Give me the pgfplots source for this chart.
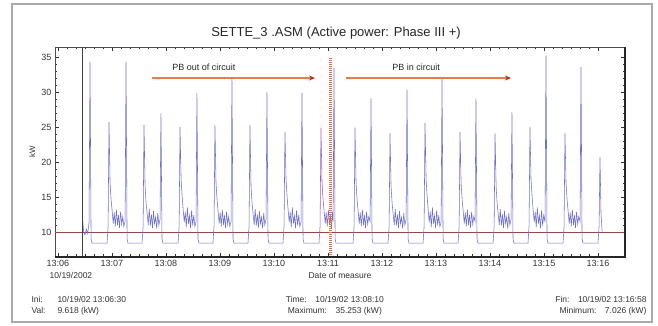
\documentclass[border=0pt]{standalone}
\usepackage{pgfplots}
\pgfplotsset{compat=1.18}
\usepackage{fontspec}
\setmainfont{Liberation Sans}
\usetikzlibrary{arrows.meta}
\definecolor{sig}{RGB}{112,112,198}
\definecolor{base}{RGB}{150,70,70}
\definecolor{arr}{RGB}{232,125,75}
\definecolor{arrhead}{RGB}{170,50,30}
\definecolor{vline}{RGB}{205,120,85}
\definecolor{frame}{RGB}{170,170,170}
\begin{document}
\begin{tikzpicture}
\begin{axis}[name=ax, scale only axis, width=570pt, height=210pt,
 xmin=-3.3, xmax=630, ymin=6.43, ymax=36.43,
 xtick={0,60,120,180,240,300,360,420,480,540,600},
 xticklabels={13:06,13:07,13:08,13:09,13:10,13:11,13:12,13:13,13:14,13:15,13:16},
 ytick={10,15,20,25,30,35},
 minor x tick num=5, minor y tick num=4,
 tick align=inside, major tick length=4pt, minor tick length=2.5pt,
 tick style={black!80, line width=0.5pt},
 axis line style={black!70, line width=0.6pt},
 ticklabel style={font=\fontsize{9}{10}\selectfont, text=black!80},
 /pgf/number format/assume math mode=true,
 clip=false,
]
\addplot[base, line width=0.7pt] coordinates {(-3.3,10) (630,10)};
\addplot[sig, line width=0.55pt] table {
x y
27.5 11.7
28.6 10.0
30.0 9.6
31.5 10.4
33.0 9.8
34.5 11.3
35.6 34.3
36.8 9.0
37.8 8.4
54.5 8.4
55.7 10.8
56.7 25.7
57.9 17.0
59.1 14.5
60.2 13.0
61.4 11.2
62.5 12.8
63.7 10.8
64.9 13.2
66.1 11.0
67.2 12.4
68.4 10.6
69.6 12.9
70.8 11.1
72.0 12.2
73.2 10.8
74.6 11.5
75.6 34.3
76.8 9.0
77.8 8.4
93.4 8.4
94.6 10.8
95.6 25.3
96.8 16.5
98.0 14.0
99.1 12.6
100.3 11.0
101.4 13.3
102.6 10.9
103.8 12.5
105.0 10.6
106.1 13.0
107.3 11.2
108.5 12.1
109.7 10.5
110.9 12.7
112.1 11.0
113.4 11.8
114.4 27.0
115.6 9.0
116.6 8.4
133.4 8.4
134.6 10.8
135.6 25.0
136.8 17.5
138.0 15.0
139.1 13.2
140.3 11.4
141.4 12.9
142.6 10.7
143.8 13.5
145.0 11.2
146.1 12.3
147.3 10.6
148.5 13.1
149.7 10.9
150.9 12.4
152.1 10.8
153.4 11.4
154.4 29.9
155.6 9.0
156.6 8.4
172.2 8.4
173.4 10.8
174.4 25.3
175.6 17.0
176.8 14.5
177.9 13.0
179.1 11.2
180.2 12.8
181.4 10.8
182.6 13.2
183.8 11.0
184.9 12.4
186.1 10.6
187.3 12.9
188.5 11.1
189.7 12.2
190.9 10.8
192.3 11.5
193.3 32.1
194.5 9.0
195.5 8.4
211.1 8.4
212.3 10.8
213.3 25.3
214.5 16.5
215.7 14.0
216.8 12.6
218.0 11.0
219.1 13.3
220.3 10.9
221.5 12.5
222.7 10.6
223.8 13.0
225.0 11.2
226.2 12.1
227.4 10.5
228.6 12.7
229.8 11.0
231.2 11.8
232.2 30.0
233.4 9.0
234.4 8.4
250.0 8.4
251.2 10.8
252.2 24.3
253.4 17.5
254.6 15.0
255.7 13.2
256.9 11.4
258.0 12.9
259.2 10.7
260.4 13.5
261.6 11.2
262.7 12.3
263.9 10.6
265.1 13.1
266.3 10.9
267.5 12.4
268.7 10.8
270.1 11.4
271.1 29.9
272.3 9.0
273.3 8.4
290.0 8.4
291.2 10.8
292.2 24.9
293.4 17.0
294.6 14.5
295.7 13.0
296.9 11.2
298.0 12.8
299.2 10.8
300.4 13.2
301.6 11.0
302.7 12.4
303.9 10.6
305.1 12.9
305.7 11.5
306.7 33.5
307.9 9.0
308.9 8.4
327.8 8.4
329.0 10.8
330.0 24.9
331.2 17.0
332.4 14.5
333.5 13.0
334.7 11.2
335.8 12.8
337.0 10.8
338.2 13.2
339.4 11.0
340.5 12.4
341.7 10.6
342.9 12.9
344.1 11.1
345.3 12.2
346.8 11.5
347.8 29.1
349.0 9.0
350.0 8.4
366.7 8.4
367.9 10.8
368.9 24.1
370.1 16.5
371.3 14.0
372.4 12.6
373.6 11.0
374.7 13.3
375.9 10.9
377.1 12.5
378.3 10.6
379.4 13.0
380.6 11.2
381.8 12.1
383.0 10.5
384.2 12.7
385.4 11.0
386.8 11.8
387.8 30.3
389.0 9.0
390.0 8.4
405.6 8.4
406.8 10.8
407.8 25.6
409.0 17.5
410.2 15.0
411.3 13.2
412.5 11.4
413.6 12.9
414.8 10.7
416.0 13.5
417.2 11.2
418.3 12.3
419.5 10.6
420.7 13.1
421.9 10.9
423.1 12.4
424.3 10.8
425.7 11.4
426.7 32.0
427.9 9.0
428.9 8.4
444.5 8.4
445.7 10.8
446.7 24.3
447.9 17.0
449.1 14.5
450.2 13.0
451.4 11.2
452.5 12.8
453.7 10.8
454.9 13.2
456.1 11.0
457.2 12.4
458.4 10.6
459.6 12.9
460.8 11.1
462.0 12.2
463.4 11.5
464.4 29.1
465.6 9.0
466.6 8.4
483.4 8.4
484.6 10.8
485.6 24.1
486.8 16.5
488.0 14.0
489.1 12.6
490.3 11.0
491.4 13.3
492.6 10.9
493.8 12.5
495.0 10.6
496.1 13.0
497.3 11.2
498.5 12.1
499.7 10.5
500.9 12.7
502.1 11.0
503.4 11.8
504.4 27.1
505.6 9.0
506.6 8.4
522.2 8.4
523.4 10.8
524.4 25.0
525.6 17.5
526.8 15.0
527.9 13.2
529.1 11.4
530.2 12.9
531.4 10.7
532.6 13.5
533.8 11.2
534.9 12.3
536.1 10.6
537.3 13.1
538.5 10.9
539.7 12.4
541.2 11.4
542.2 35.2
543.4 9.0
544.4 8.4
561.1 8.4
562.3 10.8
563.3 24.1
564.5 17.0
565.7 14.5
566.8 13.0
568.0 11.2
569.1 12.8
570.3 10.8
571.5 13.2
572.7 11.0
573.8 12.4
575.0 10.6
576.2 12.9
577.4 11.1
578.6 12.2
580.1 11.5
581.1 33.6
582.3 9.0
583.3 8.4
600.0 8.4
601.2 10.8
602.2 20.7
603.4 12.5
604.6 10.0
};
% cursor line and PB switch line
\draw[black!75, line width=1pt] (axis cs:26.7,6.43) -- (axis cs:26.7,36.43);
\draw[vline, line width=3pt, dash pattern=on 1.2pt off 0.8pt] (axis cs:303.3,6.43) -- (axis cs:303.3,35.0);
% annotations
\draw[arr, line width=2pt, -{Stealth[length=6pt,width=5pt,color=arrhead]}] (axis cs:104.4,32) -- (axis cs:285.6,32);
\draw[arr, line width=2pt, -{Stealth[length=6pt,width=5pt,color=arrhead]}] (axis cs:320,32) -- (axis cs:503.3,32);
\node[font=\fontsize{9}{10}\selectfont, text=black!85] at (axis cs:162.2,33.6) {PB out of circuit};
\node[font=\fontsize{9}{10}\selectfont, text=black!85] at (axis cs:397.8,33.6) {PB in circuit};
% 3D frame edges
\draw[black!85, line width=2pt] (rel axis cs:0,0) -- (rel axis cs:1,0) -- (rel axis cs:1,1);
% texts around
\node[font=\fontsize{13}{15}\selectfont, text=black!85] at (rel axis cs:0.493,1.0667) {SETTE\_3 .ASM (Active power: Phase III +)};
\node[rotate=90, font=\fontsize{8}{9}\selectfont, text=black!80] at (rel axis cs:-0.04,0.5) {kW};
\node[font=\fontsize{8.5}{10}\selectfont, text=black!80] at (rel axis cs:0.028,-0.0857) {10/19/2002};
\node[font=\fontsize{8.5}{10}\selectfont, text=black!80] at (rel axis cs:0.5,-0.0857) {Date of measure};
\node[anchor=west, font=\fontsize{8.5}{10}\selectfont, text=black!80] at (rel axis cs:-0.0474,-0.2) {\makebox[26pt][l]{Ini:}10/19/02 13:06:30};
\node[anchor=west, font=\fontsize{8.5}{10}\selectfont, text=black!80] at (rel axis cs:-0.0474,-0.257) {\makebox[26pt][l]{Val:}9.618 (kW)};
\node[font=\fontsize{8.5}{10}\selectfont, text=black!80] at (rel axis cs:0.491,-0.2) {Time:\quad 10/19/02 13:08:10};
\node[font=\fontsize{8.5}{10}\selectfont, text=black!80] at (rel axis cs:0.491,-0.257) {Maximum:\quad 35.253 (kW)};
\node[anchor=east, font=\fontsize{8.5}{10}\selectfont, text=black!80] at (rel axis cs:1.044,-0.2) {Fin:\quad 10/19/02 13:16:58};
\node[anchor=east, font=\fontsize{8.5}{10}\selectfont, text=black!80] at (rel axis cs:1.044,-0.257) {Minimum:\quad 7.026 (kW)};
\end{axis}
\pgfresetboundingbox
\path[use as bounding box] ([xshift=-55pt,yshift=-69pt]ax.south west) rectangle ([xshift=33pt,yshift=47pt]ax.north east);
\draw[frame, line width=1.3pt] ([xshift=-43pt,yshift=-65pt]ax.south west) rectangle ([xshift=27pt,yshift=43pt]ax.north east);
\end{tikzpicture}
\end{document}
